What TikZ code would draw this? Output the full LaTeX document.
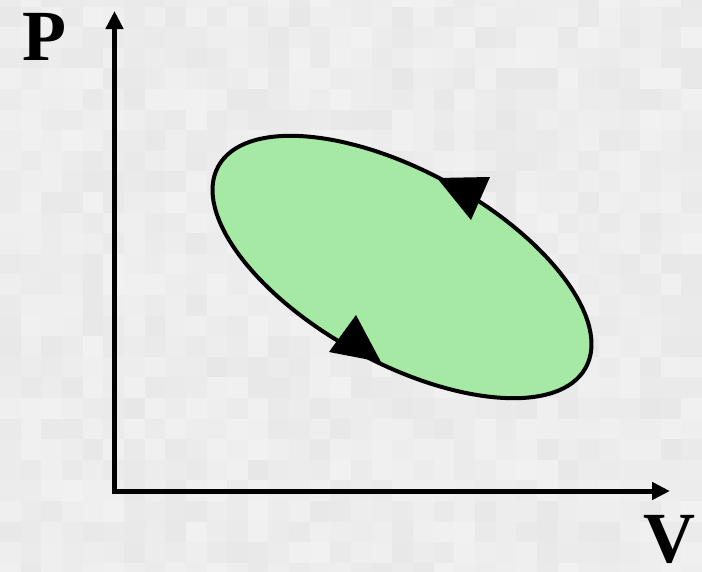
\documentclass[tikz,border=0pt]{standalone}
\usepackage{fontspec}
\setmainfont{Liberation Serif}
\usetikzlibrary{arrows.meta}
\definecolor{loopgreen}{HTML}{A5E9A4}
\tikzset{
  axis/.style={line width=5pt,-{Triangle[length=18pt,width=17pt]}},
  loop/.style={line width=4pt,draw=black,fill=loopgreen},
  tip/.style={fill=black,draw=none},
  axlabel/.style={inner sep=0pt,font=\fontsize{72}{72}\selectfont\bfseries}
}
\begin{document}
\begin{tikzpicture}[x=1pt,y=-1pt]
\useasboundingbox (0,0) rectangle (702,571);
\fill[black!7] (0,0) rectangle (702,571);
\begin{scope}
\clip (0,0) rectangle (702,571);
\pgfmathsetseed{11}
\foreach \i in {0,...,33}{
  \foreach \j in {0,...,28}{
    \pgfmathsetmacro\g{5.5+3.8*rnd}
    \fill[black!\g] ({\i*20.65},{-14.1+\j*20.6}) rectangle ({(\i+1)*20.65},{-14.1+(\j+1)*20.6});
  }
}
\end{scope}
\coordinate (O) at (114.5,491);
\coordinate (Ptop) at (114.5,11);
\coordinate (Vend) at (670,491);
\coordinate (Ostart) at (112,491);
\coordinate (Obot) at (114.5,493.5);
\draw[axis] (Obot) -- (Ptop);
\draw[axis] (Ostart) -- (Vend);
\coordinate (C) at (402,267);
\draw[loop,rotate around={-28.7:(C)}] (C) ellipse [x radius=209.5, y radius=96];
\coordinate (t1) at (437,178);
\coordinate (t2) at (490,177);
\coordinate (t3) at (471,220);
\fill[tip] (t1) -- (t2) -- (t3) -- cycle;
\coordinate (b1) at (356,315);
\coordinate (b2) at (329,352);
\coordinate (b3) at (381,362);
\fill[tip] (b1) -- (b2) -- (b3) -- cycle;
\node[axlabel,anchor=base west] (P) at (22,60) {P};
\node[axlabel,anchor=base west] (V) at (643,562) {V};
\end{tikzpicture}
\end{document}
